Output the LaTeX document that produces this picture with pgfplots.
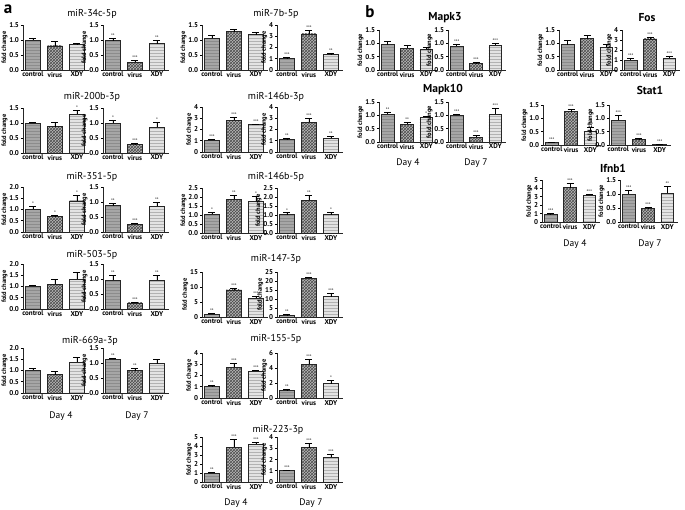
\documentclass[border=0pt]{standalone}
\usepackage{pgfplots}
\pgfplotsset{compat=1.18}
\usepackage{fontspec}
\setmainfont{PT Sans}
\usetikzlibrary{patterns}
\pgfplotsset{
 eb/.style={error bars/.cd, y dir=plus, y explicit,
   error bar style={black, line width=0.7pt},
   error mark options={black, line width=0.7pt, mark size=3.5pt, rotate=90}},
 ctrl/.style={ybar, bar width=0.66, bar shift=0pt, draw=black!85, line width=0.8pt,
   fill=gray!70, postaction={pattern=horizontal lines, pattern color=gray!90}, eb},
 vir/.style={ybar, bar width=0.66, bar shift=0pt, draw=black!85, line width=0.8pt,
   fill=gray!55, postaction={pattern=crosshatch, pattern color=black!70}, eb},
 xdy/.style={ybar, bar width=0.66, bar shift=0pt, draw=black!85, line width=0.8pt,
   fill=gray!22, postaction={pattern=horizontal lines, pattern color=gray!60}, eb},
 mini/.style={
  scale only axis, width=66pt, height=45pt, anchor=south west,
  xmin=-0.45, xmax=2.55, ymin=0, ymax=1.5, ytick={0,0.5,1,1.5},
  axis x line*=bottom, axis y line*=left,
  axis line style={line width=0.9pt, black!85},
  xtick={0,1,2}, xticklabels={control,virus,XDY},
  major x tick style={draw=none},
  ytick align=outside, major tick length=2pt, tick style={line width=0.7pt, black},
  tick label style={font=\bfseries\fontsize{7}{7}\selectfont},
  /pgf/number format/assume math mode=true,
  yticklabel style={/pgf/number format/fixed, /pgf/number format/fixed zerofill, /pgf/number format/precision=1, xshift=1.5pt},
  xticklabel style={yshift=1.5pt},
  ylabel={fold change}, ylabel style={font=\bfseries\fontsize{6.5}{6.5}\selectfont, yshift=-5pt},
  clip=false,
 },
 int/.style={yticklabel style={/pgf/number format/precision=0}},
 bsm/.style={width=58pt, height=40pt},
}
\tikzset{star/.style={font=\fontsize{5}{5}\selectfont, anchor=south, inner sep=0.3pt, yshift=0.3pt}}
\def\bpdata#1,#2,#3,#4,#5,#6\relax{\def\cv{#1}\def\ce{#2}\def\vv{#3}\def\ve{#4}\def\xv{#5}\def\xe{#6}}
\def\bpstars#1|#2|#3\relax{\def\sa{#1}\def\sb{#2}\def\sc{#3}}
\newcommand{\bp}[5]{%
 \bpdata#4\relax \bpstars#5\relax
 \pgfmathsetmacro\ct{\cv+\ce}\pgfmathsetmacro\vt{\vv+\ve}\pgfmathsetmacro\xt{\xv+\xe}%
 \begin{axis}[mini, at={(#1pt,-#2pt)}, #3]
 \addplot[ctrl] coordinates {(0,\cv) +- (0,\ce)};
 \addplot[vir] coordinates {(1,\vv) +- (0,\ve)};
 \addplot[xdy] coordinates {(2,\xv) +- (0,\xe)};
 \node[star] at (axis cs:0,\ct) {\sa};
 \node[star] at (axis cs:1,\vt) {\sb};
 \node[star] at (axis cs:2,\xt) {\sc};
 \end{axis}}
\newcommand{\ttl}[3]{\node[font=\fontsize{10}{10}\selectfont] at (#1pt,-#2pt) {#3};}
\newcommand{\ttlb}[3]{\node[font=\bfseries\fontsize{11.5}{11.5}\selectfont] at (#1pt,-#2pt) {#3};}
\newcommand{\dayl}[3]{\node[font=\fontsize{9.5}{9.5}\selectfont] at (#1pt,-#2pt) {#3};}
\begin{document}
\begin{tikzpicture}
\path[fill=white] (0,0) rectangle (685pt,-510pt);
\node[font=\bfseries\fontsize{17}{17}\selectfont] at (8pt,-9pt) {a};
\node[font=\bfseries\fontsize{17}{17}\selectfont] at (370pt,-12pt) {b};
% ---- panel a, left column
\ttl{92}{14}{miR-34c-5p}
\bp{23}{70}{}{1.0,0.07,0.8,0.17,0.85,0.03}{||}
\bp{103}{70}{}{0.98,0.08,0.25,0.08,0.87,0.13}{**|***|**}
\ttl{92}{97}{miR-200b-3p}
\bp{23}{153}{}{1.0,0.02,0.88,0.15,1.3,0.12}{||*}
\bp{103}{153}{}{1.0,0.1,0.28,0.05,0.85,0.18}{*|***|*}
\ttl{92}{177}{miR-351-5p}
\bp{23}{232}{ymax=2,ytick={0,0.5,1,1.5,2}}{1.02,0.1,0.68,0.07,1.38,0.25}{*|*|*}
\bp{103}{232}{}{0.88,0.08,0.25,0.04,0.85,0.15}{**|***|**}
\ttl{92}{255}{miR-503-5p}
\bp{23}{309}{ymax=2,ytick={0,0.5,1,1.5,2}}{1.02,0.05,1.1,0.2,1.33,0.32}{||}
\bp{103}{309}{}{0.95,0.18,0.2,0.03,0.95,0.18}{**|***|**}
\ttl{90}{341}{miR-669a-3p}
\bp{23}{393}{ymax=2,ytick={0,0.5,1,1.5,2}}{1.02,0.06,0.82,0.12,1.38,0.2}{||}
\bp{103}{393}{}{1.12,0.03,0.75,0.08,0.98,0.15}{**|**|}
\dayl{61}{416}{Day 4}
\dayl{137}{416}{Day 7}
% ---- panel a, middle column
\ttl{276}{14}{miR-7b-5p}
\bp{202}{70}{}{1.05,0.1,1.27,0.1,1.17,0.1}{||}
\bp{277}{70}{int,ymax=4,ytick={0,1,2,3,4}}{1.0,0.15,3.2,0.35,1.35,0.12}{***|***|**}
\ttl{276}{97}{miR-146b-3p}
\bp{202}{152}{int,ymax=4,ytick={0,1,2,3,4}}{1.05,0.08,2.8,0.28,2.45,0.05}{***|***|***}
\bp{277}{152}{int,ymax=4,ytick={0,1,2,3,4}}{1.1,0.1,2.65,0.35,1.2,0.2}{**|***|**}
\ttl{276}{177}{miR-146b-5p}
\bp{202}{233}{ymax=2.5,ytick={0,0.5,1,1.5,2,2.5}}{1.05,0.1,1.88,0.22,1.75,0.28}{*|**|*}
\bp{277}{233}{ymax=2.5,ytick={0,0.5,1,1.5,2,2.5}}{1.02,0.1,1.83,0.25,1.02,0.15}{*|**|*}
\ttl{276}{259}{miR-147-3p}
\bp{202}{317}{int,ymax=15,ytick={0,5,10,15}}{1.0,0.2,9.0,0.6,6.3,0.5}{**|***|***}
\bp{277}{317}{int,ymax=25,ytick={0,5,10,15,20,25}}{1.0,0.3,21.5,0.7,11.3,1.8}{**|***|***}
\ttl{276}{339}{miR-155-5p}
\bp{202}{398}{int,ymax=4,ytick={0,1,2,3,4}}{1.0,0.1,2.75,0.3,2.4,0.08}{**|***|***}
\bp{277}{398}{int,ymax=6,ytick={0,2,4,6}}{1.0,0.1,4.5,0.7,1.9,0.4}{**|***|*}
\ttl{278}{430}{miR-223-3p}
\bp{202}{482}{int,ymax=5,ytick={0,1,2,3,4,5}}{1.0,0.1,3.85,0.85,4.2,0.2}{**|***|***}
\bp{277}{482}{int,ymax=4,ytick={0,1,2,3,4}}{1.0,0.08,3.05,0.35,2.2,0.25}{***|***|***}
\dayl{236}{503}{Day 4}
\dayl{311}{503}{Day 7}
% ---- panel b
\ttlb{445}{18}{Mapk3}
\bp{379}{70}{bsm}{0.95,0.12,0.82,0.12,0.78,0.06}{||}
\bp{448}{70}{bsm}{0.9,0.08,0.25,0.03,0.92,0.07}{***|***|***}
\ttlb{647}{18}{Fos}
\bp{559}{70}{bsm}{0.95,0.15,1.17,0.12,0.85,0.1}{||}
\bp{622}{70}{bsm,int,ymax=4,ytick={0,1,2,3,4}}{1.0,0.12,3.1,0.2,1.2,0.2}{***|***|***}
\ttlb{443}{90}{Mapk10}
\bp{379}{142}{bsm}{1.05,0.07,0.67,0.07,0.93,0.05}{**|**|*}
\bp{448}{142}{bsm}{1.0,0.05,0.17,0.07,1.05,0.22}{***|***|***}
\ttlb{650}{90}{Stat1}
\bp{543}{145}{bsm}{0.08,0.03,1.25,0.07,0.5,0.15}{***|***|***}
\bp{609}{145}{bsm,width=62pt}{0.92,0.2,0.2,0.05,0.03,0.01}{***|***|***}
\dayl{408}{163}{Day 4}
\dayl{476}{163}{Day 7}
\ttlb{613}{168}{Ifnb1}
\bp{542}{222}{bsm,height=42pt,int,ymax=5,ytick={0,1,2,3,4,5}}{0.85,0.2,4.1,0.45,3.2,0.15}{***|***|***}
\bp{620}{222}{bsm,height=42pt}{1.0,0.12,0.48,0.04,1.02,0.25}{***|***|**}
\dayl{575}{244}{Day 4}
\dayl{650}{244}{Day 7}
\pgfresetboundingbox
\useasboundingbox (0,0) rectangle (685pt,-510pt);
\end{tikzpicture}
\end{document}
